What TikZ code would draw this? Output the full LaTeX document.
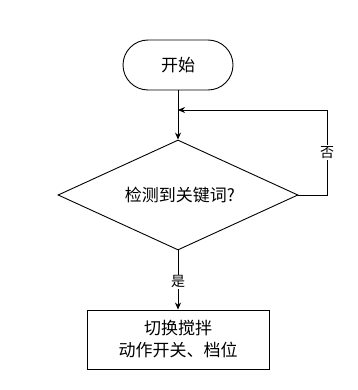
\documentclass[tikz,border=0pt]{standalone}
\usepackage{fontspec}
\setmainfont{Noto Sans CJK SC}
\usetikzlibrary{shapes.geometric,arrows.meta}
\begin{document}
\begin{tikzpicture}[x=1pt,y=-1pt,
  base/.style={draw=black,line width=0.9pt,font=\fontsize{17}{22}\selectfont,inner sep=0pt,align=center},
  term/.style={base,rounded corners=25pt,minimum width=110pt,minimum height=50pt},
  decide/.style={base,diamond,aspect=2.18,minimum width=240pt,minimum height=110pt},
  procbox/.style={base,rectangle,minimum width=182pt,minimum height=59pt},
  conn/.style={line width=0.9pt,-{Stealth[length=7pt,width=6pt]}},
  lab/.style={fill=white,font=\fontsize{14}{16}\selectfont,inner sep=1pt}]
\useasboundingbox (0,0) rectangle (357,390);
\node[term] (start) at (178,65) {开始};
\node[decide] (dec) at (178,195) {};
\node[font=\fontsize{17}{22}\selectfont] (dectext) at (180,195) {检测到关键词?};
\node[procbox] (act) at (178,339.5) {切换搅拌\\动作开关、档位};
\coordinate (merge) at (178,110);
\coordinate (c1) at (327,195);
\coordinate (c2) at (327,110);
\draw[conn] (start.south) -- (dec.north);
\draw[conn] (dec.east) -- (c1) -- node[lab,pos=0.5] {否} (c2) -- (merge);
\draw[conn] (dec.south) -- node[lab,pos=0.53] {是} (act.north);
\end{tikzpicture}
\end{document}
